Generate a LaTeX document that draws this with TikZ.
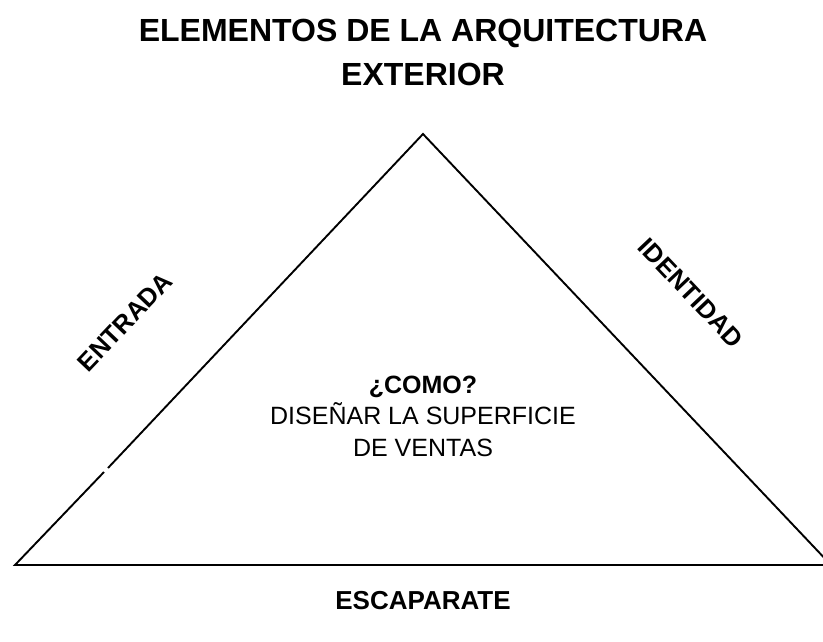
\documentclass[tikz,border=0pt]{standalone}
\usepackage{fontspec}
\setmainfont{Liberation Sans}
\begin{document}
\begin{tikzpicture}[x=1pt,y=-1pt,
  titlestyle/.style={font=\fontsize{32}{38}\selectfont\bfseries, anchor=base},
  sidelabel/.style={font=\fontsize{25.5}{30}\selectfont\bfseries},
  centertext/.style={font=\fontsize{25}{31}\selectfont, anchor=base},
  edge/.style={line width=1.9pt, line join=miter}]
\useasboundingbox (0,0) rectangle (823,642);
\clip (0,0) rectangle (823,642);
\coordinate (apex) at (423,134);
\coordinate (bl) at (15,565);
\coordinate (br) at (831,565);
\coordinate (gapA) at (104,472);
\coordinate (gapB) at (108,468);
\draw[edge] (gapA) -- (bl) -- (br) -- (apex) -- (gapB);
\node[titlestyle] (t1) at (423,42) {ELEMENTOS DE LA ARQUITECTURA};
\node[titlestyle] (t2) at (423,86) {EXTERIOR};
\node[sidelabel, rotate=46.5] (entrada) at (125,322) {ENTRADA};
\node[sidelabel, rotate=-46.5] (identidad) at (691,293) {IDENTIDAD};
\node[centertext] (c1) at (423,393) {\bfseries ¿COMO?};
\node[centertext] (c2) at (423,424) {DISEÑAR LA SUPERFICIE};
\node[centertext] (c3) at (423,456) {DE VENTAS};
\node[font=\fontsize{26}{30}\selectfont\bfseries, anchor=base] (esc) at (423,609) {ESCAPARATE};
\end{tikzpicture}
\end{document}
